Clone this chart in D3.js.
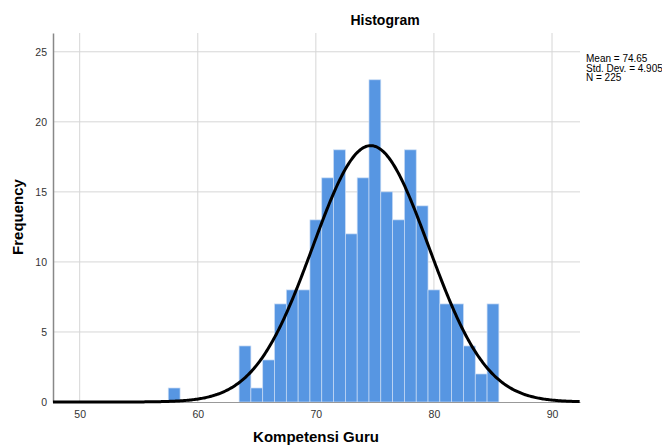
<!DOCTYPE html>
<html>
<head>
<meta charset="utf-8">
<script src="https://cdn.jsdelivr.net/npm/d3@7"></script>
<style>
  body { margin: 0; background: white; }
  svg { font-family: "Liberation Sans", Arial, sans-serif; }
</style>
</head>
<body>
<div id="chart"></div>
<script>
// bins are centred on whole scores, width 1
var scores = [58, 64, 65, 66, 67, 68, 69, 70, 71, 72, 73, 74, 75, 76, 77, 78, 79, 80, 81, 82, 83, 84, 85]
var counts = [1, 4, 1, 3, 7, 8, 8, 13, 16, 18, 12, 16, 23, 15, 13, 18, 14, 8, 7, 7, 4, 2, 7]
var xTicks = [50, 60, 70, 80, 90]
var yTicks = [0, 5, 10, 15, 20, 25]
var stats = ['Mean = 74.65', 'Std. Dev. = 4.905', 'N = 225']
var mean = 74.65, sd = 4.905, n = 225

var width = 662, height = 447
var margin = { top: 33, right: 82, bottom: 45, left: 53 }

var svg = d3.select('#chart')
  .append('svg')
  .attr('width', width)
  .attr('height', height)

var x = d3.scaleLinear()
  .domain([47.74, 92.37])
  .range([margin.left, width - margin.right])

var y = d3.scaleLinear()
  .domain([0, 26.34])
  .range([height - margin.bottom, margin.top])

// gridlines
svg.append('g')
  .selectAll('line')
  .data(yTicks.slice(1))
  .join('line')
  .attr('x1', x.range()[0]).attr('x2', x.range()[1])
  .attr('y1', d => y(d)).attr('y2', d => y(d))
  .attr('stroke', '#d6d6d6')

svg.append('g')
  .selectAll('line')
  .data(xTicks)
  .join('line')
  .attr('x1', d => x(d)).attr('x2', d => x(d))
  .attr('y1', y.range()[0]).attr('y2', y.range()[1])
  .attr('stroke', '#d6d6d6')

// bars
var bars = scores.map((s, i) => ({ score: s, count: counts[i] }))
svg.append('g')
  .selectAll('rect')
  .data(bars)
  .join('rect')
  .attr('x', d => x(d.score - 0.5))
  .attr('y', d => y(d.count))
  .attr('width', d => x(d.score + 0.5) - x(d.score - 0.5))
  .attr('height', d => y(0) - y(d.count))
  .attr('fill', '#5796e2')
  .attr('stroke', '#c9dcf5')
  .attr('stroke-width', 0.7)

// axes
var xAxis = svg.append('g')
  .attr('transform', `translate(0, ${y(0)})`)
  .call(d3.axisBottom(x).tickValues(xTicks).tickSize(0).tickPadding(9))
xAxis.select('.domain').attr('stroke', '#999')

var yAxis = svg.append('g')
  .attr('transform', `translate(${x.range()[0]}, 0)`)
  .call(d3.axisLeft(y).tickValues(yTicks).tickSize(0).tickPadding(6))
yAxis.select('.domain').attr('stroke', '#888').attr('stroke-width', 1.5)

svg.selectAll('.tick text')
  .attr('font-size', '10.5px')
  .attr('fill', '#333')
  .attr('font-family', '"Liberation Sans", Arial, sans-serif')

// normal curve
var curveX = d3.range(x.domain()[0], x.domain()[1] + 0.01, 0.1)
var normal = v => n / (sd * Math.sqrt(2 * Math.PI)) * Math.exp(-0.5 * Math.pow((v - mean) / sd, 2))
svg.append('path')
  .datum(curveX)
  .attr('fill', 'none')
  .attr('stroke', 'black')
  .attr('stroke-width', 3)
  .attr('d', d3.line().x(d => x(d)).y(d => y(normal(d))))

// titles
svg.append('text')
  .attr('x', 385)
  .attr('y', 25)
  .attr('text-anchor', 'middle')
  .attr('font-size', '14px')
  .attr('font-weight', 'bold')
  .text('Histogram')

svg.append('text')
  .attr('transform', 'rotate(-90)')
  .attr('x', -217)
  .attr('y', 23)
  .attr('text-anchor', 'middle')
  .attr('font-size', '15px')
  .attr('font-weight', 'bold')
  .text('Frequency')

svg.append('text')
  .attr('x', 316)
  .attr('y', 442)
  .attr('text-anchor', 'middle')
  .attr('font-size', '15px')
  .attr('font-weight', 'bold')
  .text('Kompetensi Guru')

// stats box
svg.append('g')
  .selectAll('text')
  .data(stats)
  .join('text')
  .attr('x', 586)
  .attr('y', (d, i) => 62 + i * 9.7)
  .attr('font-size', '10px')
  .text(d => d)
</script>
</body>
</html>
